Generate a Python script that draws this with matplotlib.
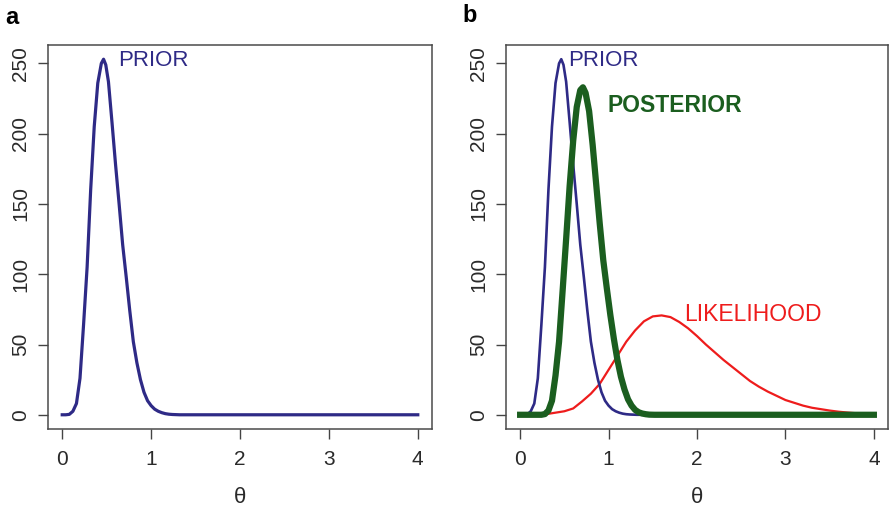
import numpy as np
import matplotlib
matplotlib.use("Agg")
import matplotlib.pyplot as plt

plt.rcParams['font.family'] = ['Liberation Sans', 'DejaVu Sans']

# values (theta, density x 100)
theta_prior = [0.00, 0.04, 0.08, 0.12, 0.16, 0.20, 0.24, 0.28, 0.32, 0.36,
               0.40, 0.44, 0.465, 0.49, 0.52, 0.56, 0.60, 0.64, 0.68, 0.72, 0.76,
               0.80, 0.84, 0.88, 0.92, 0.96, 1.00, 1.04, 1.08, 1.12, 1.16,
               1.20, 1.24, 1.28, 1.32, 2.00, 3.00, 4.00]
prior = [0, 0, 0.3, 2.5, 8, 26, 64, 105, 160, 205,
         236, 250, 253, 249, 237, 208, 178, 150, 121, 98, 74,
         52, 37, 25, 16, 10, 6.5, 4, 2.5, 1.5, 0.8,
         0.4, 0.2, 0.1, 0, 0, 0, 0]

theta_post = [0.00, 0.20, 0.24, 0.28, 0.32, 0.36, 0.40, 0.44, 0.48, 0.52,
              0.56, 0.60, 0.64, 0.68, 0.71, 0.74, 0.78, 0.82, 0.86, 0.90,
              0.94, 0.98, 1.02, 1.06, 1.10, 1.14, 1.18, 1.22, 1.26, 1.30,
              1.34, 1.38, 1.42, 1.46, 1.52, 2.00, 3.00, 4.00]
posterior = [0, 0, 0, 0.5, 3, 10, 28, 52, 88, 125,
             163, 195, 219, 231, 233, 229, 216, 192, 164, 136,
             110, 90, 71, 54, 39, 27, 18, 11, 6.5, 3.5,
             1.8, 0.9, 0.4, 0.1, 0, 0, 0, 0]

theta_lik = [0.3, 0.4, 0.5, 0.6, 0.7, 0.8, 0.9, 1.0, 1.1, 1.2,
             1.3, 1.4, 1.5, 1.6, 1.7, 1.8, 1.9, 2.0, 2.1, 2.2,
             2.3, 2.4, 2.5, 2.6, 2.7, 2.8, 2.9, 3.0, 3.1, 3.2,
             3.3, 3.4, 3.5, 3.6, 3.7, 3.8]
likelihood = [0.5, 1.5, 2.5, 4.5, 9.5, 15, 22, 32, 42, 52,
              60, 66.5, 70, 70.7, 69.5, 66, 61.5, 56, 50, 44.5,
              39, 34, 29, 24, 20, 16.5, 13.5, 10.5, 8.5, 6.5,
              5, 4, 3, 2.2, 1.6, 1.1]

xticks = [0, 1, 2, 3, 4]
yticks = [0, 50, 100, 150, 200, 250]

blue = '#2e2a86'
green = '#1b5e1f'
red = '#ee1c1c'

fig = plt.figure(figsize=(8.89, 5.08), dpi=100)
ax_a = fig.add_axes([48/889, 79/508, 384/889, 384/508])
ax_b = fig.add_axes([506/889, 79/508, 382/889, 384/508])

for ax in (ax_a, ax_b):
    ax.set_xlim(-0.16, 4.16)
    ax.set_ylim(-10.12, 263.1)
    ax.set_xticks(xticks)
    ax.set_yticks(yticks)
    ax.tick_params(direction='out', length=7, width=1, color='#444444',
                   labelsize=15, labelcolor='#2a2a2a')
    ax.tick_params(axis='x', pad=8)
    ax.tick_params(axis='y', pad=6)
    for lab in ax.get_yticklabels():
        lab.set_rotation(90)
        lab.set_va('center')
    for s in ax.spines.values():
        s.set_color('#4a4a4a')
        s.set_linewidth(1.1)
    ax.set_xlabel('θ', fontsize=16, labelpad=13, color='#2a2a2a')

# panel a
ax_a.plot(theta_prior, prior, color=blue, lw=2.3)
ax_a.text(0.63, 252, 'PRIOR', color=blue, fontsize=16, va='center', ha='left')

# panel b
ax_b.plot(theta_lik, likelihood, color=red, lw=1.6)
ax_b.plot(theta_prior, prior, color=blue, lw=1.9)
ax_b.plot(theta_post, posterior, color=green, lw=4.5)
ax_b.text(0.54, 252, 'PRIOR', color=blue, fontsize=16, va='center', ha='left')
ax_b.text(0.99, 220, 'POSTERIOR', color=green, fontsize=16.5, va='center',
          ha='left', fontweight='bold')
ax_b.text(1.86, 71.5, 'LIKELIHOOD', color=red, fontsize=16.5, va='center', ha='left')

fig.text(12/889, 1 - 18/508, 'a', fontsize=17, fontweight='bold', ha='center', va='center')
fig.text(470/889, 1 - 16/508, 'b', fontsize=17, fontweight='bold', ha='center', va='center')

fig.savefig('out.png', dpi=100)
